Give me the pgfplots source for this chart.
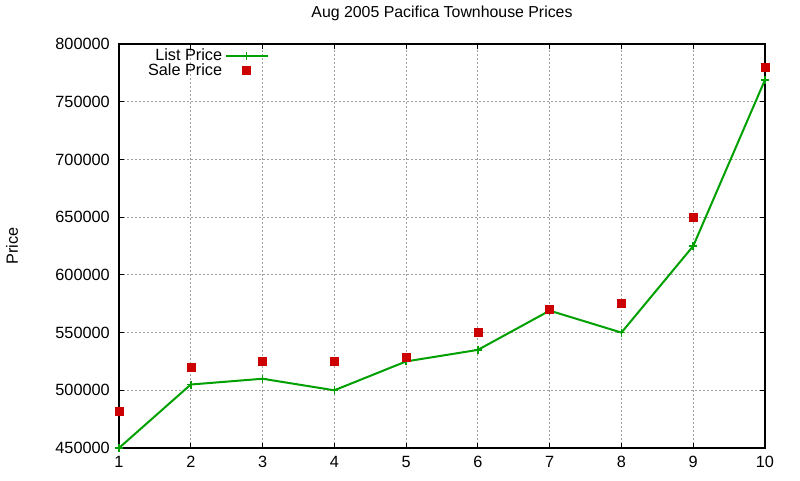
\documentclass[border=0pt]{standalone}
\usepackage{fontspec}
\setmainfont{Liberation Sans}
\usepackage{pgfplots}
\pgfplotsset{compat=1.18}
\definecolor{listgreen}{RGB}{0,160,0}
\definecolor{salered}{RGB}{204,0,0}
\newcommand{\chartfont}{\fontsize{12.2}{14}\selectfont}
\begin{document}
\begin{tikzpicture}[font=\chartfont]
\useasboundingbox (-89.25pt,-24pt) rectangle (510.75pt,336pt);
\begin{axis}[
    scale only axis,
    width=484.5pt, height=303pt,
    at={(0,0)}, anchor=south west,
    xmin=1, xmax=10, ymin=450000, ymax=800000,
    xtick={1,2,3,4,5,6,7,8,9,10},
    xticklabels={1,2,3,4,5,6,7,8,9,10},
    ytick={450000,500000,550000,600000,650000,700000,750000,800000},
    yticklabels={450000,500000,550000,600000,650000,700000,750000,800000},
    scaled y ticks=false,
    tick pos=both, tick align=inside,
    major tick length=3.75pt,
    tick style={black, line width=0.75pt},
    axis line style={black, line width=0.9pt},
    grid=major,
    major grid style={gray!75, line width=0.75pt, dash pattern=on 1.5pt off 1.5pt},
    xticklabel style={anchor=base, yshift=-14.5pt, inner sep=0pt, font=\chartfont},
    yticklabel style={anchor=east, xshift=-6.75pt, inner sep=0pt, font=\chartfont},
    title={Aug 2005 Pacifica Townhouse Prices},
    title style={at={(axis description cs:0.5,1)}, anchor=base, yshift=14.25pt, inner sep=0pt, font=\fontsize{11.9}{14}\selectfont},
    ylabel={Price},
    ylabel style={at={(axis description cs:0,0.5)}, anchor=center, yshift=80.25pt, font=\chartfont},
    clip=false,
    legend plot pos=right,
    legend cell align=right,
    legend style={at={(axis description cs:0.234,0.999)}, anchor=north east,
        draw=none, fill=none, row sep=-3.2pt, inner sep=1pt,
        font=\chartfont},
    legend image code/.code={\draw[mark repeat=2,mark phase=2] plot coordinates {(0cm,0cm)(0.55cm,0cm)(1.1cm,0cm)};},
]
\addplot[color=listgreen, line width=1.5pt, mark=+, mark size=3pt,
    mark options={line width=1.2pt}]
    coordinates {
    (1,450000)(2,505000)(3,510000)(4,500000)(5,525000)
    (6,535000)(7,569000)(8,550000)(9,625000)(10,769000)
    };
\addlegendentry{List Price}
\addplot[only marks, mark=square*, color=salered, mark size=3pt]
    coordinates {
    (1,482000)(2,520000)(3,525000)(4,525000)(5,529000)
    (6,550000)(7,570000)(8,575000)(9,650000)(10,780000)
    };
\addlegendentry{Sale Price}
\end{axis}
\end{tikzpicture}
\end{document}
